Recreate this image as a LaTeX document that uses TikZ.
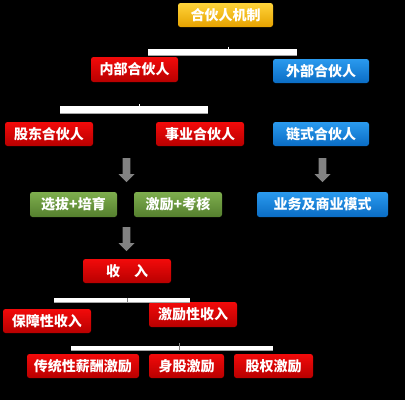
\documentclass[tikz,border=0pt]{standalone}
\usepackage{fontspec}
\setmainfont{Noto Sans CJK SC}
\usetikzlibrary{shadings}
\definecolor{redT}{HTML}{F20A0A}
\definecolor{redB}{HTML}{B80000}
\definecolor{bluT}{HTML}{2A9AEE}
\definecolor{bluB}{HTML}{0A6CC4}
\definecolor{grnT}{HTML}{7EAE4E}
\definecolor{grnB}{HTML}{557F2E}
\definecolor{golT}{HTML}{FFD43A}
\definecolor{golB}{HTML}{E6A200}
\definecolor{arrgray}{HTML}{828282}
\tikzset{
  box/.style={rounded corners=2.5pt, minimum height=24pt, inner sep=0pt,
    text=white, font=\fontsize{14pt}{14pt}\selectfont\bfseries},
  redbox/.style={box, top color=redT, bottom color=redB},
  bluebox/.style={box, top color=bluT, bottom color=bluB},
  greenbox/.style={box, top color=grnT, bottom color=grnB},
  goldbox/.style={box, top color=golT, bottom color=golB},
  bar/.style={draw=white, fill=white},
  barline/.style={white, line width=4pt},
  downarrow/.style={fill=arrgray},
}
\begin{document}
\begin{tikzpicture}[x=1pt,y=-1pt]
\fill[black] (0,0) rectangle (405,400);
\useasboundingbox (0,0) rectangle (405,400);

% nodes
\node[goldbox, minimum width=95pt] (root) at (225.5,15) {合伙人机制};
\node[redbox, minimum width=87pt, minimum height=25pt] (nb) at (134.5,69.5) {内部合伙人};
\node[bluebox, minimum width=96pt] (wb) at (321,71) {外部合伙人};
\node[redbox, minimum width=88pt] (gd) at (49,134) {股东合伙人};
\node[redbox, minimum width=88pt] (sy) at (200,134) {事业合伙人};
\node[bluebox, minimum width=96pt] (ls) at (321,134) {链式合伙人};
\node[greenbox, minimum width=87pt, minimum height=25pt] (xb) at (73.5,204.5) {选拔+培育};
\node[greenbox, minimum width=88pt, minimum height=25pt] (jl) at (178,204.5) {激励+考核};
\node[bluebox, minimum width=131pt, minimum height=25pt] (yw) at (322.5,204.5) {业务及商业模式};
\node[redbox, minimum width=88pt] (sr) at (127,271) {收\hspace{1em}入};
\node[redbox, minimum width=88pt] (bz) at (47,321) {保障性收入};
\node[redbox, minimum width=88pt, minimum height=25pt] (jx) at (193,314.5) {激励性收入};
\node[redbox, minimum width=112pt] (ct) at (83,366) {传统性薪酬激励};
\node[redbox, minimum width=75pt] (sg) at (186.5,366) {身股激励};
\node[redbox, minimum width=79pt] (gq) at (273.5,366) {股权激励};

% bracket bars
\coordinate (b1l) at (148,52); \coordinate (b1r) at (297,52);
\fill[white] (148,48.5) rectangle (297,55.5);
\draw[gray!70, line width=0.6pt] (148,55.5) -- (297,55.5);
\draw[white, line width=0.8pt] (228,46.5) -- (228,48.5);

\fill[white] (60,106) rectangle (208,113.3);
\draw[gray!70, line width=0.6pt] (60,113.3) -- (208,113.3);
\draw[white, line width=0.8pt] (139,104) -- (139,106);

\fill[white] (54,298) rectangle (190,302);
\draw[gray!70, line width=0.6pt] (54,302) -- (190,302);
\draw[gray, line width=0.6pt] (127.7,297.5) -- (127.7,302);

\fill[white] (71,345.5) rectangle (273,350);
\draw[gray!70, line width=0.6pt] (71,350) -- (273,350);
\draw[gray, line width=0.6pt] (179,343) -- (179,350);

% gray block arrows
\foreach \cx/\ty in {126.5/158, 322.5/158, 126.5/227}{
  \fill[arrgray] (\cx-3.8,\ty) -- (\cx+3.8,\ty) -- (\cx+3.8,\ty+16) -- (\cx+8,\ty+16)
     -- (\cx,\ty+24) -- (\cx-8,\ty+16) -- (\cx-3.8,\ty+16) -- cycle;
}
\end{tikzpicture}
\end{document}
